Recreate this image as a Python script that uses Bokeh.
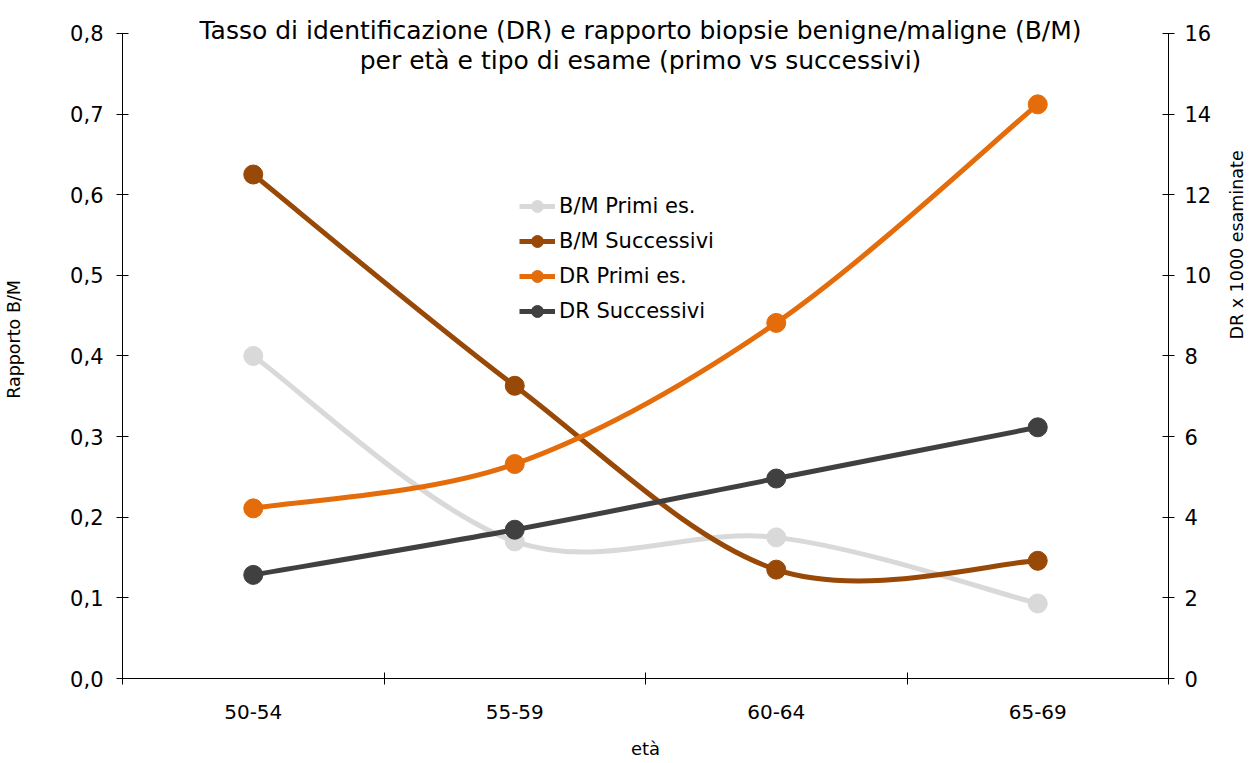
from bokeh.plotting import figure
from bokeh.models import (Range1d, LinearAxis, FixedTicker, CustomJSTickFormatter,
                          ColumnDataSource, Legend, LegendItem, Label)
from bokeh.embed import file_html
from bokeh.resources import INLINE
import math

# ---------------- data ----------------
categories = ["50-54", "55-59", "60-64", "65-69"]
bm_primi = [0.40, 0.17, 0.175, 0.093]
bm_succ = [0.625, 0.363, 0.135, 0.146]
dr_primi = [4.22, 5.32, 8.82, 14.24]
dr_succ = [2.57, 3.69, 4.96, 6.23]
left_ticks = [0.0, 0.1, 0.2, 0.3, 0.4, 0.5, 0.6, 0.7, 0.8]
right_ticks = [0, 2, 4, 6, 8, 10, 12, 14, 16]

title_1 = "Tasso di identificazione (DR) e rapporto biopsie benigne/maligne (B/M)"
title_2 = "per età e tipo di esame (primo vs successivi)"

FONT = "DejaVu Sans"
C_GRAY = "#D9D9D9"
C_BROWN = "#984807"
C_ORANGE = "#E46C0A"
C_DARK = "#404040"

xs = [i + 0.5 for i in range(len(categories))]

# frame: left 122, right 1170, top 0, bottom 680 ; axis bounds end at 0.8 / 16 (y=33)
FR_TOP, FR_BOT, AX_TOP = 0, 680, 33
scale_ext = (FR_BOT - FR_TOP) / (FR_BOT - AX_TOP)

W, H = 1260, 761
p = figure(width=W, height=H, output_backend="svg", toolbar_location=None,
           x_range=Range1d(0, 4), y_range=Range1d(0, 0.8 * scale_ext),
           min_border_left=122, min_border_right=W - 1170, min_border_top=FR_TOP,
           min_border_bottom=H - FR_BOT)
p.extra_y_ranges = {"dr": Range1d(0, 16 * scale_ext)}
p.outline_line_color = None
p.xgrid.visible = False
p.ygrid.visible = False
p.background_fill_color = "white"
p.border_fill_color = "white"


def style_axis(ax, size="21px"):
    ax.axis_line_color = "black"
    ax.axis_line_width = 1
    ax.major_tick_line_color = "black"
    ax.minor_tick_line_color = "black"
    ax.major_label_text_font = FONT
    ax.major_label_text_font_size = size
    ax.major_label_text_color = "#000000"
    ax.axis_label_text_font = FONT
    ax.axis_label_text_font_size = "17.5px"
    ax.axis_label_text_font_style = "normal"
    ax.axis_label_text_color = "#000000"


yl = p.yaxis[0]
yl.ticker = FixedTicker(ticks=left_ticks, minor_ticks=[])
yl.formatter = CustomJSTickFormatter(code="return tick.toFixed(1).replace('.', ',')")
yl.bounds = (0, 0.8)
style_axis(yl)
yl.major_tick_in = 6
yl.major_tick_out = 6
yl.major_label_standoff = 13
yl.axis_label = "Rapporto B/M"
yl.axis_label_standoff = 43

yr = LinearAxis(y_range_name="dr")
yr.ticker = FixedTicker(ticks=right_ticks, minor_ticks=[])
yr.formatter = CustomJSTickFormatter(code="return tick.toFixed(0)")
yr.bounds = (0, 16)
style_axis(yr)
yr.major_tick_in = 6
yr.major_tick_out = 6
yr.major_label_standoff = 10
yr.axis_label = "DR x 1000 esaminate"
yr.axis_label_standoff = 23
yr.axis_label_orientation = math.pi / 2
yr.axis_label_text_align = "left"
p.add_layout(yr, "right")

xa = p.xaxis[0]
xa.ticker = FixedTicker(ticks=xs, minor_ticks=[0, 1, 2, 3, 4])
xa.formatter = CustomJSTickFormatter(args=dict(labels=categories),
                                     code="return labels[Math.floor(tick)]")
style_axis(xa, size="20px")
xa.major_tick_in = 0
xa.major_tick_out = 0
xa.minor_tick_in = 6
xa.minor_tick_out = 6
xa.major_label_standoff = 20
xa.axis_label = "età"
xa.axis_label_standoff = 16
xa.axis_label_text_font_size = "18px"


# ---------------- smooth curves (Excel-like Bezier) ----------------
def bezier_source(xv, yv):
    n = len(xv)
    d = dict(x0=[], y0=[], x1=[], y1=[], cx0=[], cy0=[], cx1=[], cy1=[])
    for i in range(n - 1):
        a = i - 1 if i > 0 else i
        b = i + 2 if i + 2 < n else i + 1
        d["x0"].append(xv[i]); d["y0"].append(yv[i])
        d["x1"].append(xv[i + 1]); d["y1"].append(yv[i + 1])
        d["cx0"].append(xv[i] + (xv[i + 1] - xv[a]) / 6)
        d["cy0"].append(yv[i] + (yv[i + 1] - yv[a]) / 6)
        d["cx1"].append(xv[i + 1] - (xv[b] - xv[i]) / 6)
        d["cy1"].append(yv[i + 1] - (yv[b] - yv[i]) / 6)
    return ColumnDataSource(d)


series = [
    ("B/M Primi es.", bm_primi, C_GRAY, "default"),
    ("B/M Successivi", bm_succ, C_BROWN, "default"),
    ("DR Primi es.", dr_primi, C_ORANGE, "dr"),
    ("DR Successivi", dr_succ, C_DARK, "dr"),
]

NAN = float("nan")
items = []
for name, vals, col, rng in series:
    p.bezier(x0="x0", y0="y0", x1="x1", y1="y1", cx0="cx0", cy0="cy0",
             cx1="cx1", cy1="cy1", source=bezier_source(xs, vals),
             line_color=col, line_width=5, line_cap="round", y_range_name=rng)
    dots = p.scatter(x=xs, y=vals, size=19, marker="circle", fill_color=col,
                     line_color=col, y_range_name=rng)
    lg_line = p.line(x=[NAN, NAN], y=[NAN, NAN], line_color=col, line_width=5,
                     y_range_name=rng)
    items.append(LegendItem(label=name, renderers=[lg_line, dots], index=0))

legend = Legend(items=items, location=(397, 352), orientation="vertical",
                glyph_width=36, glyph_height=30, label_height=30,
                label_standoff=4, spacing=5, padding=0, margin=0,
                border_line_color=None, background_fill_alpha=0,
                label_text_font=FONT, label_text_font_size="21px",
                label_text_color="#000000")
p.add_layout(legend, "center")


# ---------------- title (inside the frame area) ----------------
def data_x(px):
    return (px - 122) / 262.0


def data_y(py):
    return (680 - py) / 808.75


p.add_layout(Label(x=data_x(641), y=data_y(30), text=title_1, text_font=FONT,
                   text_font_size="25px", text_align="center",
                   text_baseline="middle", text_color="#000000"))
p.add_layout(Label(x=data_x(641), y=data_y(60), text=title_2, text_font=FONT,
                   text_font_size="25px", text_align="center",
                   text_baseline="middle", text_color="#000000"))

open("out.html", "w").write(file_html(p, INLINE))
